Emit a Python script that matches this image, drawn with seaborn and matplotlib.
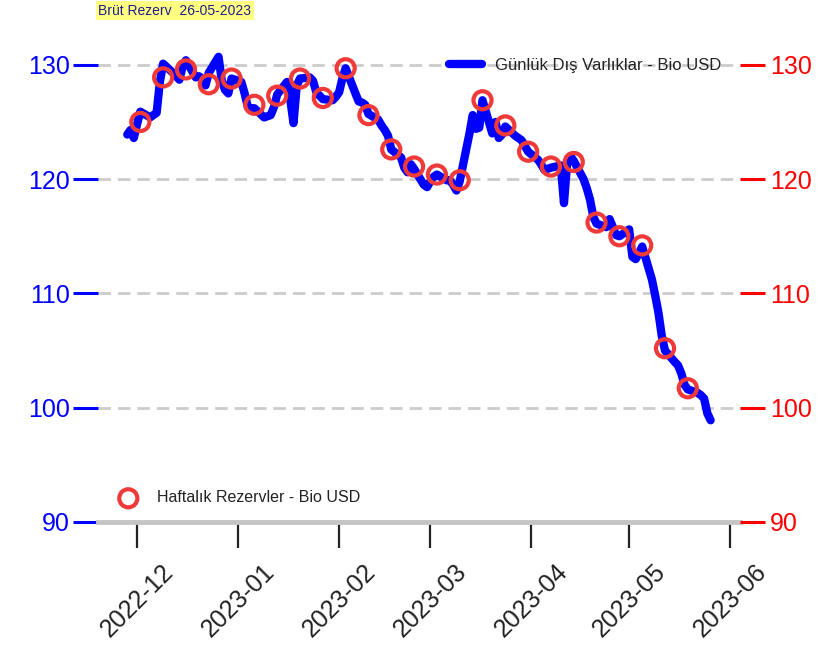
import pandas as pd
import seaborn as sns
import matplotlib.pyplot as plt
import matplotlib.dates as mdates

# daily business-day values (Bio USD), 2022-11-28 .. 2023-05-26, one row per week
daily_start = '2022-11-28'
daily_end = '2023-05-26'
daily_vals = [
    123.9, 124.3, 123.6, 124.8, 125.9,
    125.4, 125.6, 125.8, 128.5, 130.1,
    129.3, 129.0, 128.7, 129.9, 130.4,
    128.9, 129.0, 128.8, 128.2, 129.3,
    130.7, 128.6, 127.8, 127.5, 128.8,
    128.5, 127.5, 126.3, 126.2, 126.2,
    125.4, 125.5, 125.6, 126.3, 127.4,
    128.5, 127.0, 124.9, 128.2, 128.8,
    128.9, 128.6, 127.6, 127.3, 127.0,
    126.9, 127.2, 127.6, 128.8, 129.7,
    127.5, 126.8, 126.7, 126.5, 125.7,
    125.2, 124.7, 124.3, 123.8, 122.6,
    121.9, 121.0, 120.6, 121.3, 120.9,
    119.5, 119.3, 119.8, 120.2, 120.4,
    119.9, 119.9, 119.5, 119.0, 119.8,
    124.0, 125.6, 124.4, 124.5, 126.9,
    124.0, 125.0, 123.6, 123.9, 124.6,
    123.8, 123.6, 123.4, 122.9, 122.4,
    121.7, 121.3, 120.8, 120.9, 121.0,
    121.2, 117.9, 121.5, 122.0, 121.6,
    120.0, 119.2, 118.2, 116.7, 116.1,
    115.8, 116.5, 115.8, 115.1, 115.0,
    115.6, 113.2, 113.0, 113.5, 114.1,
    111.2, 109.8, 108.3, 106.3, 105.0,
    104.0, 103.7, 103.0, 102.0, 101.6,
    101.3, 101.1, 100.8, 99.5, 98.9,
]

# weekly reserves (Fridays from 2022-12-02)
weekly_start = '2022-12-02'
weekly_vals = [125.0, 128.9, 129.6, 128.3, 128.8, 126.5, 127.3, 128.8, 127.1,
               129.7, 125.6, 122.6, 121.1, 120.4, 119.9, 126.9, 124.7, 122.4,
               121.1, 121.5, 116.2, 115.0, 114.2, 105.2, 101.7]

y_ticks = [90, 100, 110, 120, 130]
title_txt = 'Brüt Rezerv  26-05-2023'
daily_label = 'Günlük Dış Varlıklar - Bio USD'
weekly_label = 'Haftalık Rezervler - Bio USD'

daily = pd.DataFrame({'date': pd.bdate_range(daily_start, daily_end), 'value': daily_vals})
weekly = pd.DataFrame({'date': pd.date_range(weekly_start, periods=len(weekly_vals), freq='7D'),
                       'value': weekly_vals})

sns.set_style('white')
plt.rcParams['font.family'] = ['Liberation Sans', 'DejaVu Sans']

fig = plt.figure(figsize=(8.33, 6.64), dpi=100)
ax = fig.add_axes([0.1176, 0.2139, 0.7707, 0.7229])

sns.lineplot(data=daily, x='date', y='value', ax=ax, color='#0000ff', lw=6,
             label=daily_label, solid_capstyle='round', solid_joinstyle='round')
ax2 = ax.twinx()
sns.scatterplot(data=weekly, x='date', y='value', ax=ax2, marker='o', s=170,
                facecolor='none', edgecolor='#f03a3a', linewidth=3, label=weekly_label)

for a in (ax, ax2):
    a.set_ylim(90, 132)
    a.set_yticks(y_ticks)
    a.set_xlabel('')
    a.set_ylabel('')
    for s in ('left', 'right', 'top'):
        a.spines[s].set_visible(False)
ax2.spines['bottom'].set_visible(False)
ax.spines['bottom'].set_color('#c4c4c4')
ax.spines['bottom'].set_linewidth(3.5)

ax.set_xlim(pd.Timestamp('2022-11-19'), pd.Timestamp('2023-06-04'))
ax.xaxis.set_major_locator(mdates.MonthLocator())
ax.xaxis.set_major_formatter(mdates.DateFormatter('%Y-%m'))

ax.yaxis.grid(True, color='#cccccc', ls=(0, (4.5, 2.5)), lw=2)
ax.xaxis.grid(False)

ax.tick_params(axis='y', left=True, colors='#0000ff', labelsize=18, length=18, width=2.2,
               direction='out', pad=2)
ax2.tick_params(axis='y', right=True, colors='#ff0000', labelsize=18, length=18, width=2.2,
                direction='out')
ax.tick_params(axis='x', bottom=True, labelsize=18, labelrotation=45, length=19, width=1.6,
               color='#222222', labelcolor='#222222', direction='out', pad=8)

ax.legend(loc='center right', bbox_to_anchor=(0.995, 0.952), frameon=False, fontsize=12,
          handlelength=2.0, labelcolor='#222222')
ax2.legend(loc='center left', bbox_to_anchor=(0.0, 0.05), frameon=False, fontsize=11.5,
           labelcolor='#222222')

fig.text(0.118, 0.984, title_txt, fontsize=10, color='#1f1f8f', ha='left', va='center',
         bbox=dict(facecolor='#ffff80', edgecolor='none', pad=2))

fig.savefig('out.png', dpi=100)
